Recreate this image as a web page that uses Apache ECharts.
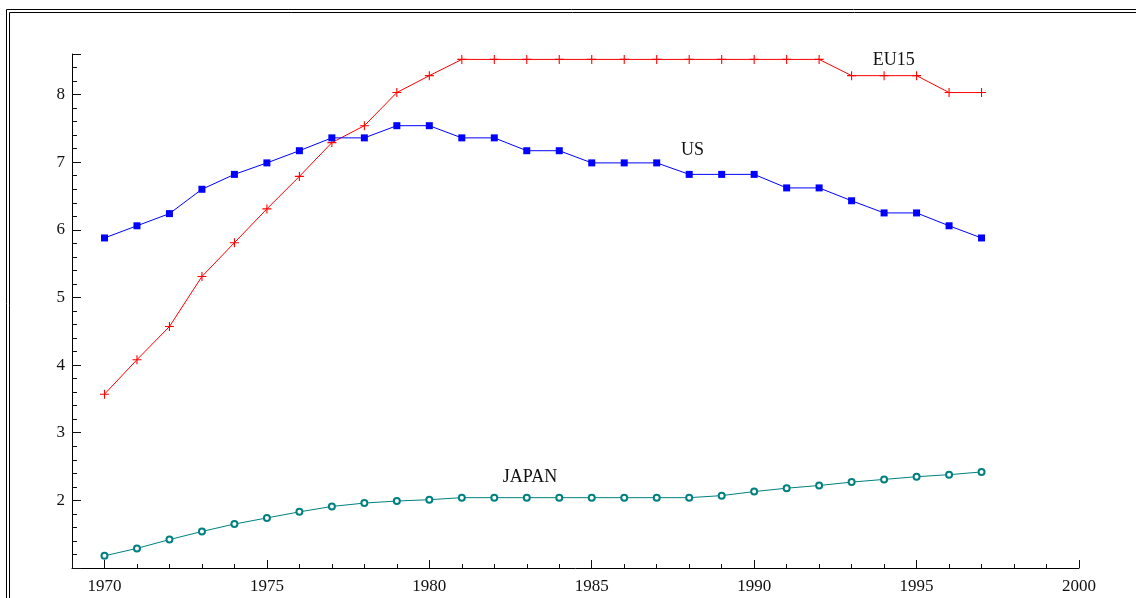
<!DOCTYPE html>
<html>
<head>
<meta charset="utf-8">
<script src="https://cdn.jsdelivr.net/npm/echarts@6/dist/echarts.min.js"></script>
<style>
  html, body { margin: 0; padding: 0; background: #fff; }
  #chart { width: 1136px; height: 598px; }
</style>
</head>
<body>
<div id="chart"></div>
<script>
// years on the x axis
const years = [1970, 1971, 1972, 1973, 1974, 1975, 1976, 1977, 1978, 1979,
  1980, 1981, 1982, 1983, 1984, 1985, 1986, 1987, 1988, 1989,
  1990, 1991, 1992, 1993, 1994, 1995, 1996, 1997];

const eu15 = [3.57, 4.08, 4.57, 5.31, 5.81, 6.31, 6.79, 7.29, 7.54, 8.03,
  8.28, 8.52, 8.52, 8.52, 8.52, 8.52, 8.52, 8.52, 8.52, 8.52,
  8.52, 8.52, 8.52, 8.28, 8.28, 8.28, 8.03, 8.03];

const us = [5.88, 6.06, 6.24, 6.60, 6.82, 6.99, 7.17, 7.36, 7.36, 7.54,
  7.54, 7.36, 7.36, 7.17, 7.17, 6.99, 6.99, 6.99, 6.82, 6.82,
  6.82, 6.62, 6.62, 6.43, 6.25, 6.25, 6.06, 5.88];

const japan = [1.18, 1.29, 1.42, 1.54, 1.65, 1.74, 1.83, 1.91, 1.96, 1.99,
  2.01, 2.04, 2.04, 2.04, 2.04, 2.04, 2.04, 2.04, 2.04, 2.07,
  2.13, 2.18, 2.22, 2.27, 2.31, 2.35, 2.38, 2.42];

// series names and where their text sits (data units)
const names = ['EU15', 'US', 'JAPAN'];
const nameAt = [[1994.3, 8.5], [1988.1, 7.17], [1983.1, 2.34]];

const chart = echarts.init(document.getElementById('chart'));

const serif = 'Liberation Serif, DejaVu Serif, serif';

function pairs(vals) {
  return years.map((y, i) => [y, vals[i]]);
}

function nameMark(i) {
  return {
    symbol: 'circle',
    symbolSize: 0,
    label: {
      show: true,
      position: 'inside',
      formatter: names[i],
      color: '#111',
      fontFamily: serif,
      fontSize: 18
    },
    data: [{ coord: nameAt[i] }]
  };
}

const option = {
  animation: false,
  backgroundColor: '#fff',
  grid: { left: 72, right: 57, top: 54, bottom: 30 },
  xAxis: {
    type: 'value',
    min: 1969,
    max: 2000,
    splitNumber: 6,
    axisLine: { lineStyle: { color: '#000', width: 1 } },
    axisTick: { inside: true, length: 8, lineStyle: { color: '#111' } },
    minorTick: { show: true, splitNumber: 5, length: 4, lineStyle: { color: '#111' } },
    splitLine: { show: false },
    axisLabel: {
      showMinLabel: false,
      margin: 10,
      color: '#111',
      fontFamily: serif,
      fontSize: 17,
      formatter: (v) => String(v)
    }
  },
  yAxis: {
    type: 'value',
    min: 1,
    max: 8.6,
    splitNumber: 7,
    axisLine: { show: true, lineStyle: { color: '#000', width: 1 } },
    axisTick: { show: true, inside: true, length: 9, lineStyle: { color: '#111' } },
    minorTick: { show: true, splitNumber: 5, length: 5, lineStyle: { color: '#111' } },
    splitLine: { show: false },
    axisLabel: {
      showMinLabel: false,
      showMaxLabel: false,
      margin: 7,
      color: '#111',
      fontFamily: serif,
      fontSize: 17
    }
  },
  series: [
    {
      name: names[0],
      type: 'line',
      data: pairs(eu15),
      symbol: 'path://M4.4,0H5.6V4.4H10V5.6H5.6V10H4.4V5.6H0V4.4H4.4Z',
      symbolSize: 9,
      lineStyle: { color: '#ff0000', width: 1 },
      itemStyle: { color: '#ff0000' },
      markPoint: nameMark(0)
    },
    {
      name: names[1],
      type: 'line',
      data: pairs(us),
      symbol: 'rect',
      symbolSize: 7,
      lineStyle: { color: '#0000ff', width: 1 },
      itemStyle: { color: '#0000ff' },
      markPoint: nameMark(1)
    },
    {
      name: names[2],
      type: 'line',
      data: pairs(japan),
      symbol: 'emptyCircle',
      symbolSize: 6,
      lineStyle: { color: '#008080', width: 1 },
      itemStyle: { color: '#008080', borderColor: '#008080', borderWidth: 1 },
      markPoint: nameMark(2)
    }
  ],
  graphic: [
    // double frame at top and left
    { type: 'line', shape: { x1: 6.5, y1: 9.5, x2: 1136, y2: 9.5 }, style: { stroke: '#000', lineWidth: 1 } },
    { type: 'line', shape: { x1: 6.5, y1: 9.5, x2: 6.5, y2: 598 }, style: { stroke: '#000', lineWidth: 1 } },
    { type: 'line', shape: { x1: 9.5, y1: 12.5, x2: 1136, y2: 12.5 }, style: { stroke: '#000', lineWidth: 1 } },
    { type: 'line', shape: { x1: 9.5, y1: 12.5, x2: 9.5, y2: 598 }, style: { stroke: '#000', lineWidth: 1 } }
  ]
};

chart.setOption(option);
</script>
</body>
</html>
